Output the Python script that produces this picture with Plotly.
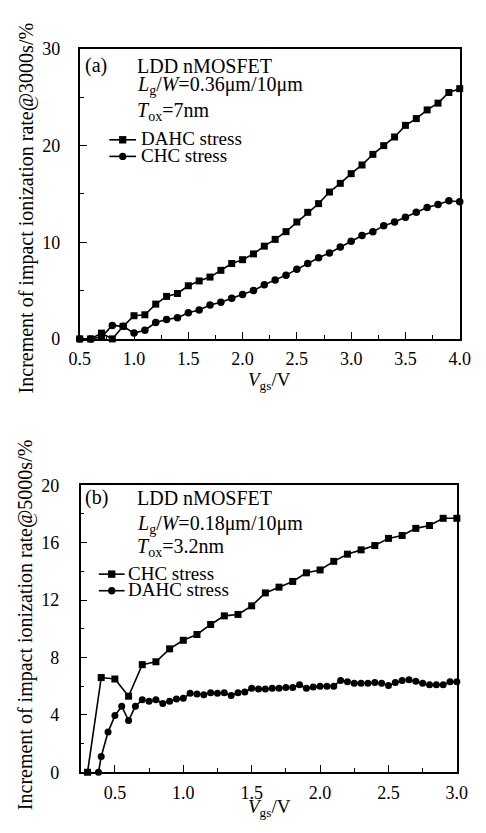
import plotly.graph_objects as go

# ---------------- data ----------------
vgs_a = [0.5, 0.6, 0.7, 0.8, 0.9, 1.0, 1.1, 1.2, 1.3, 1.4, 1.5, 1.6, 1.7, 1.8, 1.9,
         2.0, 2.1, 2.2, 2.3, 2.4, 2.5, 2.6, 2.7, 2.8, 2.9, 3.0, 3.1, 3.2, 3.3, 3.4,
         3.5, 3.6, 3.7, 3.8, 3.9, 4.0]
dahc_a = [0, 0, 0.6, 0, 1.3, 2.4, 2.5, 3.6, 4.4, 4.7, 5.5, 6.0, 6.4, 7.1, 7.8,
          8.2, 8.8, 9.6, 10.3, 11.1, 12.1, 13.1, 14.0, 15.2, 16.1, 17.1, 18.0, 19.1, 20.0, 20.9,
          22.1, 22.8, 23.7, 24.4, 25.5, 25.9]
chc_a = [0, 0, 0.2, 1.4, 1.3, 0.6, 0.9, 1.7, 2.0, 2.2, 2.7, 3.0, 3.5, 3.8, 4.2,
         4.6, 5.0, 5.6, 6.1, 6.6, 7.2, 7.8, 8.4, 8.9, 9.5, 10.1, 10.7, 11.1, 11.7, 12.1,
         12.6, 13.1, 13.6, 13.9, 14.3, 14.2]

vgs_b_chc = [0.3, 0.4, 0.5, 0.6, 0.7, 0.8, 0.9, 1.0, 1.1, 1.2, 1.3, 1.4, 1.5, 1.6,
             1.7, 1.8, 1.9, 2.0, 2.1, 2.2, 2.3, 2.4, 2.5, 2.6, 2.7, 2.8, 2.9, 3.0]
chc_b = [0, 6.6, 6.5, 5.3, 7.5, 7.7, 8.6, 9.2, 9.6, 10.3, 10.9, 11.0, 11.6, 12.5,
         12.9, 13.3, 13.9, 14.1, 14.7, 15.2, 15.5, 15.8, 16.3, 16.5, 17.0, 17.2, 17.7, 17.7]

vgs_b_dahc = [0.38, 0.40, 0.45, 0.50, 0.55, 0.60, 0.65, 0.70, 0.75, 0.80, 0.85, 0.90,
              0.95, 1.00, 1.05, 1.10, 1.15, 1.20, 1.25, 1.30, 1.35, 1.40, 1.45, 1.50,
              1.55, 1.60, 1.65, 1.70, 1.75, 1.80, 1.85, 1.90, 1.95, 2.00, 2.05, 2.10,
              2.15, 2.20, 2.25, 2.30, 2.35, 2.40, 2.45, 2.50, 2.55, 2.60, 2.65, 2.70,
              2.75, 2.80, 2.85, 2.90, 2.95, 3.00]
dahc_b = [0, 1.1, 2.8, 3.95, 4.6, 3.6, 4.6, 5.05, 4.95, 5.05, 4.8, 4.95,
          5.1, 5.15, 5.5, 5.45, 5.4, 5.55, 5.5, 5.55, 5.35, 5.55, 5.6, 5.85,
          5.8, 5.8, 5.85, 5.85, 5.9, 5.9, 6.1, 5.85, 5.95, 6.0, 6.0, 6.0,
          6.4, 6.3, 6.2, 6.2, 6.2, 6.25, 6.2, 6.05, 6.25, 6.4, 6.45, 6.35,
          6.2, 6.1, 6.1, 6.1, 6.3, 6.3]

xticks_a = [0.5, 1.0, 1.5, 2.0, 2.5, 3.0, 3.5, 4.0]
yticks_a = [0, 10, 20, 30]
xticks_b = [0.5, 1.0, 1.5, 2.0, 2.5, 3.0]
yticks_b = [0, 4, 8, 12, 16, 20]

# ---------------- layout helpers ----------------
W, H = 486, 833
def px(x):
    return x / W
def py(y):
    return 1 - y / H

FONT = "'Liberation Serif', 'Times New Roman', serif"
BLACK = "black"
LW = 1.6

fig = go.Figure()

def add(x, y, sym, size, xa, ya):
    fig.add_trace(go.Scatter(
        x=x, y=y, mode="lines+markers",
        line=dict(color=BLACK, width=LW),
        marker=dict(symbol=sym, size=size, color=BLACK),
        xaxis=xa, yaxis=ya, showlegend=False, cliponaxis=False))

add(vgs_a, dahc_a, "square", 7, "x", "y")
add(vgs_a, chc_a, "circle", 7.5, "x", "y")
add(vgs_b_chc, chc_b, "square", 7, "x2", "y2")
add(vgs_b_dahc, dahc_b, "circle", 7, "x2", "y2")

def axis(domain, rng, tickvals, minor_dtick, anchor):
    return dict(
        domain=domain, range=rng, tickvals=tickvals,
        ticktext=[("%g" % v) if isinstance(v, int) else ("%.1f" % v) for v in tickvals],
        ticks="inside", ticklen=7, tickwidth=1.4, tickcolor=BLACK,
        showline=True, linecolor=BLACK, linewidth=1.6, mirror=True,
        showgrid=False, zeroline=False, anchor=anchor,
        tickfont=dict(family=FONT, size=18, color=BLACK),
        ticklabelstandoff=3,
        minor=dict(dtick=minor_dtick, tick0=0, ticks="inside", ticklen=4,
                   tickwidth=1.2, tickcolor=BLACK, showgrid=False),
    )

xa = axis([px(72), px(470)], [0.5, 4.0], xticks_a, 0.25, "y")
ya = axis([py(337), py(40)], [0, 30], yticks_a, 5, "x")
xb = axis([px(73), px(467)], [0.25, 3.0], xticks_b, 0.25, "y2")
yb = axis([py(781), py(487)], [0, 20], yticks_b, 2, "x2")
ya["ticklabelstandoff"] = 14
yb["ticklabelstandoff"] = 16

annots = []
def txt(s, x, y, size=20, anchor="left", angle=0):
    annots.append(dict(text=s, x=px(x), y=py(y), xref="paper", yref="paper",
                       xanchor=anchor, yanchor="middle", showarrow=False,
                       textangle=angle, borderpad=0,
                       font=dict(family=FONT, size=size, color=BLACK)))

# panel (a)
txt("(a)", 76, 57)
txt("LDD nMOSFET", 131, 57)
txt("<i>L</i><sub>g</sub>/<i>W</i>=0.36μm/10μm", 131, 77)
txt("<i>T</i><sub>ox</sub>=7nm", 131, 104)
txt("DAHC stress", 135, 132, size=19)
txt("CHC stress", 135, 149, size=19)
txt("Increment of impact ionization rate@3000s/%", 16, 203, size=20, anchor="center", angle=-90)
txt("<i>V</i><sub>gs</sub>/V", 271, 380, size=19, anchor="center")

# panel (b)
txt("(b)", 76, 500)
txt("LDD nMOSFET", 131, 500)
txt("<i>L</i><sub>g</sub>/<i>W</i>=0.18μm/10μm", 131, 527)
txt("<i>T</i><sub>ox</sub>=3.2nm", 131, 551)
txt("CHC stress", 121, 577, size=19)
txt("DAHC stress", 121, 594, size=19)
txt("Increment of impact ionization rate@5000s/%", 16, 630, size=20, anchor="center", angle=-90)
txt("<i>V</i><sub>gs</sub>/V", 271, 818, size=19, anchor="center")

# legend glyphs (manual)
shapes = []
def leg(x0, x1, y, sym):
    shapes.append(dict(type="line", xref="paper", yref="paper",
                       x0=px(x0), x1=px(x1), y0=py(y), y1=py(y),
                       line=dict(color=BLACK, width=LW)))
    c = (x0 + x1) / 2
    r = 3.8
    shapes.append(dict(type="rect" if sym == "square" else "circle",
                       xref="paper", yref="paper",
                       x0=px(c - r), x1=px(c + r), y0=py(y + r), y1=py(y - r),
                       fillcolor=BLACK, line=dict(color=BLACK, width=0)))

leg(103, 131, 133, "square")
leg(103, 131, 150, "circle")
leg(92, 119, 578, "square")
leg(92, 119, 595, "circle")

fig.update_layout(
    width=W, height=H, margin=dict(l=0, r=0, t=0, b=0),
    paper_bgcolor="white", plot_bgcolor="white",
    font=dict(family=FONT, color=BLACK),
    xaxis=xa, yaxis=ya, xaxis2=xb, yaxis2=yb,
    annotations=annots, shapes=shapes, showlegend=False,
)

fig.write_html("out.html")
